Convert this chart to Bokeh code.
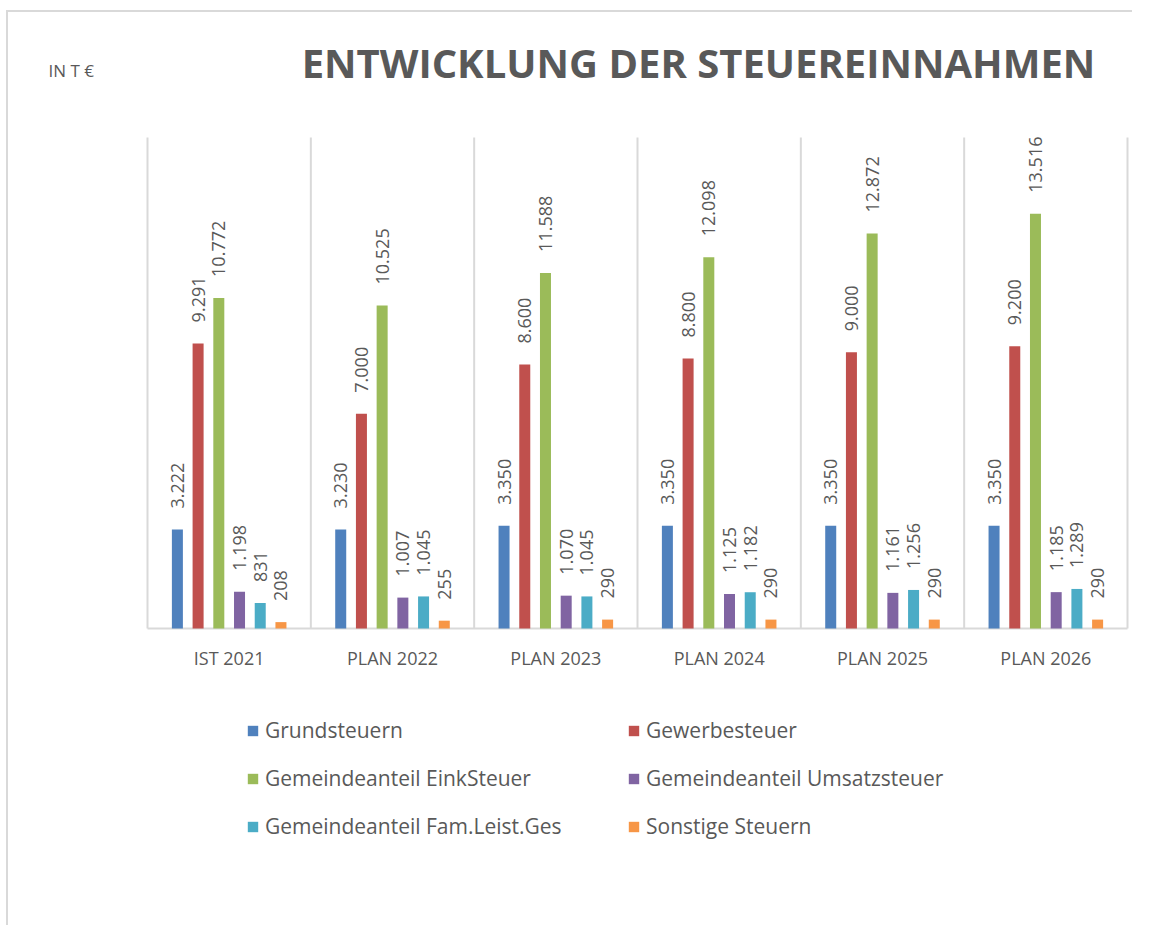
import math
from bokeh.plotting import figure
from bokeh.models import Range1d, Legend, LegendItem, Label
from bokeh.core.properties import value
from bokeh.embed import file_html
from bokeh.resources import INLINE

# ---- data ----
categories = ["IST 2021", "PLAN 2022", "PLAN 2023", "PLAN 2024", "PLAN 2025", "PLAN 2026"]
series_names = ["Grundsteuern", "Gewerbesteuer", "Gemeindeanteil EinkSteuer",
                "Gemeindeanteil Umsatzsteuer", "Gemeindeanteil Fam.Leist.Ges", "Sonstige Steuern"]
grundsteuern = [3222, 3230, 3350, 3350, 3350, 3350]
gewerbesteuer = [9291, 7000, 8600, 8800, 9000, 9200]
einksteuer = [10772, 10525, 11588, 12098, 12872, 13516]
umsatzsteuer = [1198, 1007, 1070, 1125, 1161, 1185]
famleist = [831, 1045, 1045, 1182, 1256, 1289]
sonstige = [208, 255, 290, 290, 290, 290]
series_values = [grundsteuern, gewerbesteuer, einksteuer, umsatzsteuer, famleist, sonstige]
colors = ["#4F81BD", "#C0504D", "#9BBB59", "#8064A2", "#4BACC6", "#F79646"]
axis_max = 16000

TEXT = "#595959"
GRID = "#D9D9D9"
FONT = "Open Sans"

def fmt(v):
    return f"{v:,}".replace(",", ".")

# ---- layout (pixels) ----
W, H = 1126, 915
OX, OY = 8, 12                  # page position of the canvas origin
PL, PR, PT, PB = 147, 1127, 137, 628   # plot area on page
n = len(categories)
ux = (PR - PL) / n              # px per category
uy = (PB - PT) / axis_max       # px per unit
xs = -(PL - OX) / ux
xe = xs + W / ux
ye = axis_max + (PT - OY) / uy
ys = ye - H / uy

p = figure(width=W, height=H, output_backend="svg", toolbar_location=None,
           x_range=Range1d(xs, xe), y_range=Range1d(ys, ye),
           min_border=0, min_border_left=0, min_border_right=0,
           min_border_top=0, min_border_bottom=0)
p.styles = {"border-left": f"2px solid {GRID}", "border-top": f"2px solid {GRID}",
            "margin-top": "10px", "margin-left": "6px"}
p.outline_line_color = None
p.background_fill_color = "white"
p.border_fill_color = "white"
p.axis.visible = False
p.grid.visible = False

# separators and baseline
bounds = list(range(n + 1))
p.segment(x0=bounds, y0=[0] * len(bounds), x1=bounds, y1=[axis_max] * len(bounds),
          line_color=GRID, line_width=2)
p.segment(x0=[0], y0=[0], x1=[n], y1=[0], line_color=GRID, line_width=2)

step = 0.1268
bw = 0.0674
items = []
for j, (name, vals, col) in enumerate(zip(series_names, series_values, colors)):
    xpos = [i + 0.5 + (j - 2.5) * step for i in range(n)]
    r = p.vbar(x=xpos, top=vals, width=bw, fill_color=col, line_color=None)
    p.text(x=xpos, y=vals, text=[fmt(v) for v in vals], angle=math.pi / 2,
           text_align="left", text_baseline="middle", y_offset=-21,
           text_font=value(FONT), text_font_size="18px", text_color=TEXT)
    items.append(LegendItem(label=name, renderers=[r]))

# category labels
p.text(x=[i + 0.5 for i in range(n)], y=[0] * n, text=categories,
       text_align="center", text_baseline="middle", y_offset=29,
       text_font=value(FONT), text_font_size="18px", text_color=TEXT)

legend = Legend(items=items, location=(238, 87), orientation="horizontal", ncols=2,
                glyph_width=13, glyph_height=13, label_standoff=6, label_width=342,
                label_height=28, spacing=20, margin=0, padding=0,
                border_line_color=None, background_fill_alpha=0,
                label_text_font=FONT, label_text_font_size="21px", label_text_color=TEXT)
p.add_layout(legend)

p.add_layout(Label(x=690, y=865, x_units="screen", y_units="screen",
                   text="ENTWICKLUNG DER STEUEREINNAHMEN", text_align="center",
                   text_baseline="middle", text_font=FONT, text_font_size="40px",
                   text_font_style="bold", text_color=TEXT))
p.add_layout(Label(x=40, y=857, x_units="screen", y_units="screen",
                   text="IN T €", text_align="left", text_baseline="middle",
                   text_font=FONT, text_font_size="17px", text_color=TEXT))

open("out.html", "w").write(file_html(p, INLINE))
